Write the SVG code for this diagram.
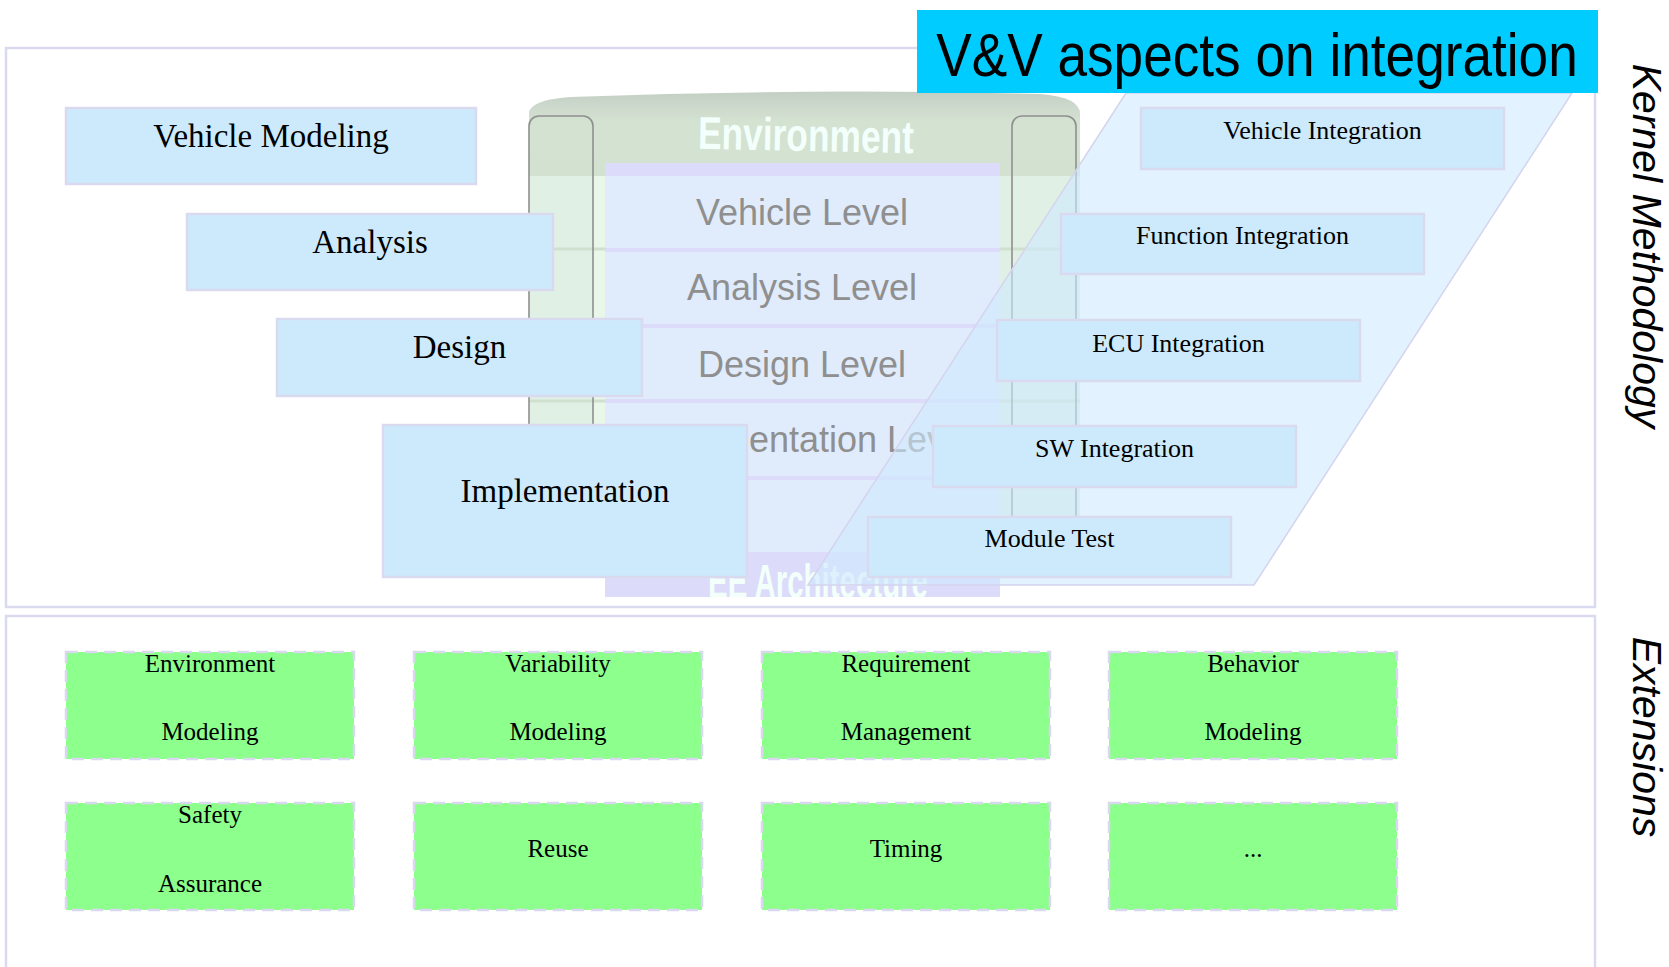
<svg xmlns="http://www.w3.org/2000/svg" width="1669" height="967" viewBox="0 0 1669 967">
<style>
.frame{fill:none;stroke:#d9d9ef;stroke-width:2.5}
.blue{fill:#cceafc;stroke:#d9d9ef;stroke-width:2.5}
.green{fill:#8cff8c;stroke:#d8d8ee;stroke-width:2.5;stroke-dasharray:12 7}
.serif{font-family:"Liberation Serif","Times New Roman",serif;fill:#000;text-anchor:middle}
.big{font-size:33px}
.mid{font-size:26px}
.sm{font-size:25px}
.lvl{font-family:"Liberation Sans",Arial,sans-serif;font-size:36px;fill:#8f8f8f;text-anchor:middle}
.side{font-family:"Liberation Sans",Arial,sans-serif;font-size:41px;font-style:italic;fill:#000;text-anchor:middle}
.band{fill:#dcdcfa}
.tube{fill:none;stroke:#8f8f8f;stroke-width:1.6}
.wa{font-family:"Liberation Sans",Arial,sans-serif;font-weight:bold;fill:#f2fffb;text-anchor:middle}
</style>
<defs>
<linearGradient id="capG" x1="0" y1="0" x2="0" y2="1">
<stop offset="0" stop-color="#c4cfc4"/>
<stop offset="0.35" stop-color="#d4e2d2"/>
<stop offset="1" stop-color="#d3e2d0"/>
</linearGradient>
<clipPath id="eeClip"><rect x="605" y="552" width="395" height="45"/></clipPath>
</defs>
<rect width="1669" height="967" fill="#fff"/>

<g id="frames">
<rect class="frame" x="6" y="48" width="1589" height="559"/>
<rect class="frame" x="6" y="616" width="1589" height="400"/>
</g>

<g id="environment">
<rect x="529" y="110" width="551" height="462" fill="#e1f0e5"/>
<rect x="593" y="176" width="12" height="396" fill="#e8f7e8"/>
<path d="M529,176 L529,114 Q529,100 570,97 Q806,88 1040,94 Q1080,97 1080,114 L1080,176 Z" fill="url(#capG)"/>
<g stroke="#cfe0cf" stroke-width="3">
<line x1="529" y1="249" x2="1080" y2="249"/>
<line x1="529" y1="326" x2="1080" y2="326"/>
<line x1="529" y1="401" x2="1080" y2="401"/>
<line x1="529" y1="478" x2="1080" y2="478"/>
</g>
<rect class="tube" x="529" y="116" width="64" height="456" rx="10"/>
<rect class="tube" x="1012" y="116" width="64" height="456" rx="10"/>
<text class="wa" x="806" y="151" font-size="46" textLength="216" lengthAdjust="spacingAndGlyphs" transform="rotate(1.2 806 135)">Environment</text>
</g>

<g id="levels">
<rect x="605" y="163" width="395" height="434" fill="#e0ecfc"/>
<rect class="band" x="605" y="163" width="395" height="13"/>
<rect class="band" x="605" y="248" width="395" height="4"/>
<rect class="band" x="605" y="324" width="395" height="4"/>
<rect class="band" x="605" y="399" width="395" height="4"/>
<rect class="band" x="605" y="476" width="395" height="4"/>
<rect class="band" x="605" y="552" width="395" height="45"/>
<text class="lvl" x="802" y="225">Vehicle Level</text>
<text class="lvl" x="802" y="300">Analysis Level</text>
<text class="lvl" x="802" y="377">Design Level</text>
<text class="lvl" x="802" y="452">Implementation Level</text>
<g clip-path="url(#eeClip)">
<text class="wa" x="818" y="598" font-size="48" textLength="220" lengthAdjust="spacingAndGlyphs">EE Architecture</text>
</g>
</g>

<g id="vehicle-modeling">
<rect class="blue" x="66" y="108" width="410" height="76"/>
<text class="serif big" x="271" y="147">Vehicle Modeling</text>
</g>
<g id="analysis">
<rect class="blue" x="187" y="214" width="366" height="76"/>
<text class="serif big" x="370" y="253">Analysis</text>
</g>
<g id="design">
<rect class="blue" x="277" y="319" width="365" height="77"/>
<text class="serif big" x="459.5" y="358">Design</text>
</g>
<g id="implementation">
<rect class="blue" x="383" y="425" width="364" height="152"/>
<text class="serif big" x="565" y="502">Implementation</text>
</g>

<g id="integration-area">
<polygon points="1126,93 1572,93 1254,585 808,585" fill="#cfeafd" fill-opacity="0.6" stroke="#d4d4ee" stroke-width="1.5"/>
</g>

<g id="vehicle-integration">
<rect class="blue" x="1141" y="108" width="363" height="61"/>
<text class="serif mid" x="1322.5" y="139">Vehicle Integration</text>
</g>
<g id="function-integration">
<rect class="blue" x="1061" y="214" width="363" height="60"/>
<text class="serif mid" x="1242.5" y="244">Function Integration</text>
</g>
<g id="ecu-integration">
<rect class="blue" x="997" y="320" width="363" height="61"/>
<text class="serif mid" x="1178.5" y="352">ECU Integration</text>
</g>
<g id="sw-integration">
<rect class="blue" x="933" y="426" width="363" height="61"/>
<text class="serif mid" x="1114.5" y="457">SW Integration</text>
</g>
<g id="module-test">
<rect class="blue" x="868" y="517" width="363" height="60"/>
<text class="serif mid" x="1049.5" y="547">Module Test</text>
</g>

<g id="vv-title">
<rect x="917" y="10" width="681" height="83" fill="#00ccff"/>
<text transform="translate(1257 76) scale(0.858 1)" x="0" y="0" text-anchor="middle" font-family="Liberation Sans,Arial,sans-serif" font-size="62" fill="#000">V&amp;V aspects on integration</text>
</g>

<g id="side-labels">
<text class="side" transform="translate(1633 246) rotate(90)">Kernel Methodology</text>
<text class="side" transform="translate(1633 737) rotate(90)">Extensions</text>
</g>

<g id="ext-env">
<rect class="green" x="66" y="652" width="288" height="107"/>
<text class="serif sm" x="210" y="672">Environment</text>
<text class="serif sm" x="210" y="740">Modeling</text>
</g>
<g id="ext-var">
<rect class="green" x="414" y="652" width="288" height="107"/>
<text class="serif sm" x="558" y="672">Variability</text>
<text class="serif sm" x="558" y="740">Modeling</text>
</g>
<g id="ext-req">
<rect class="green" x="762" y="652" width="288" height="107"/>
<text class="serif sm" x="906" y="672">Requirement</text>
<text class="serif sm" x="906" y="740">Management</text>
</g>
<g id="ext-beh">
<rect class="green" x="1109" y="652" width="288" height="107"/>
<text class="serif sm" x="1253" y="672">Behavior</text>
<text class="serif sm" x="1253" y="740">Modeling</text>
</g>
<g id="ext-safety">
<rect class="green" x="66" y="803" width="288" height="107"/>
<text class="serif sm" x="210" y="823">Safety</text>
<text class="serif sm" x="210" y="892">Assurance</text>
</g>
<g id="ext-reuse">
<rect class="green" x="414" y="803" width="288" height="107"/>
<text class="serif sm" x="558" y="857">Reuse</text>
</g>
<g id="ext-timing">
<rect class="green" x="762" y="803" width="288" height="107"/>
<text class="serif sm" x="906" y="857">Timing</text>
</g>
<g id="ext-more">
<rect class="green" x="1109" y="803" width="288" height="107"/>
<text class="serif sm" x="1253" y="857">...</text>
</g>
</svg>
